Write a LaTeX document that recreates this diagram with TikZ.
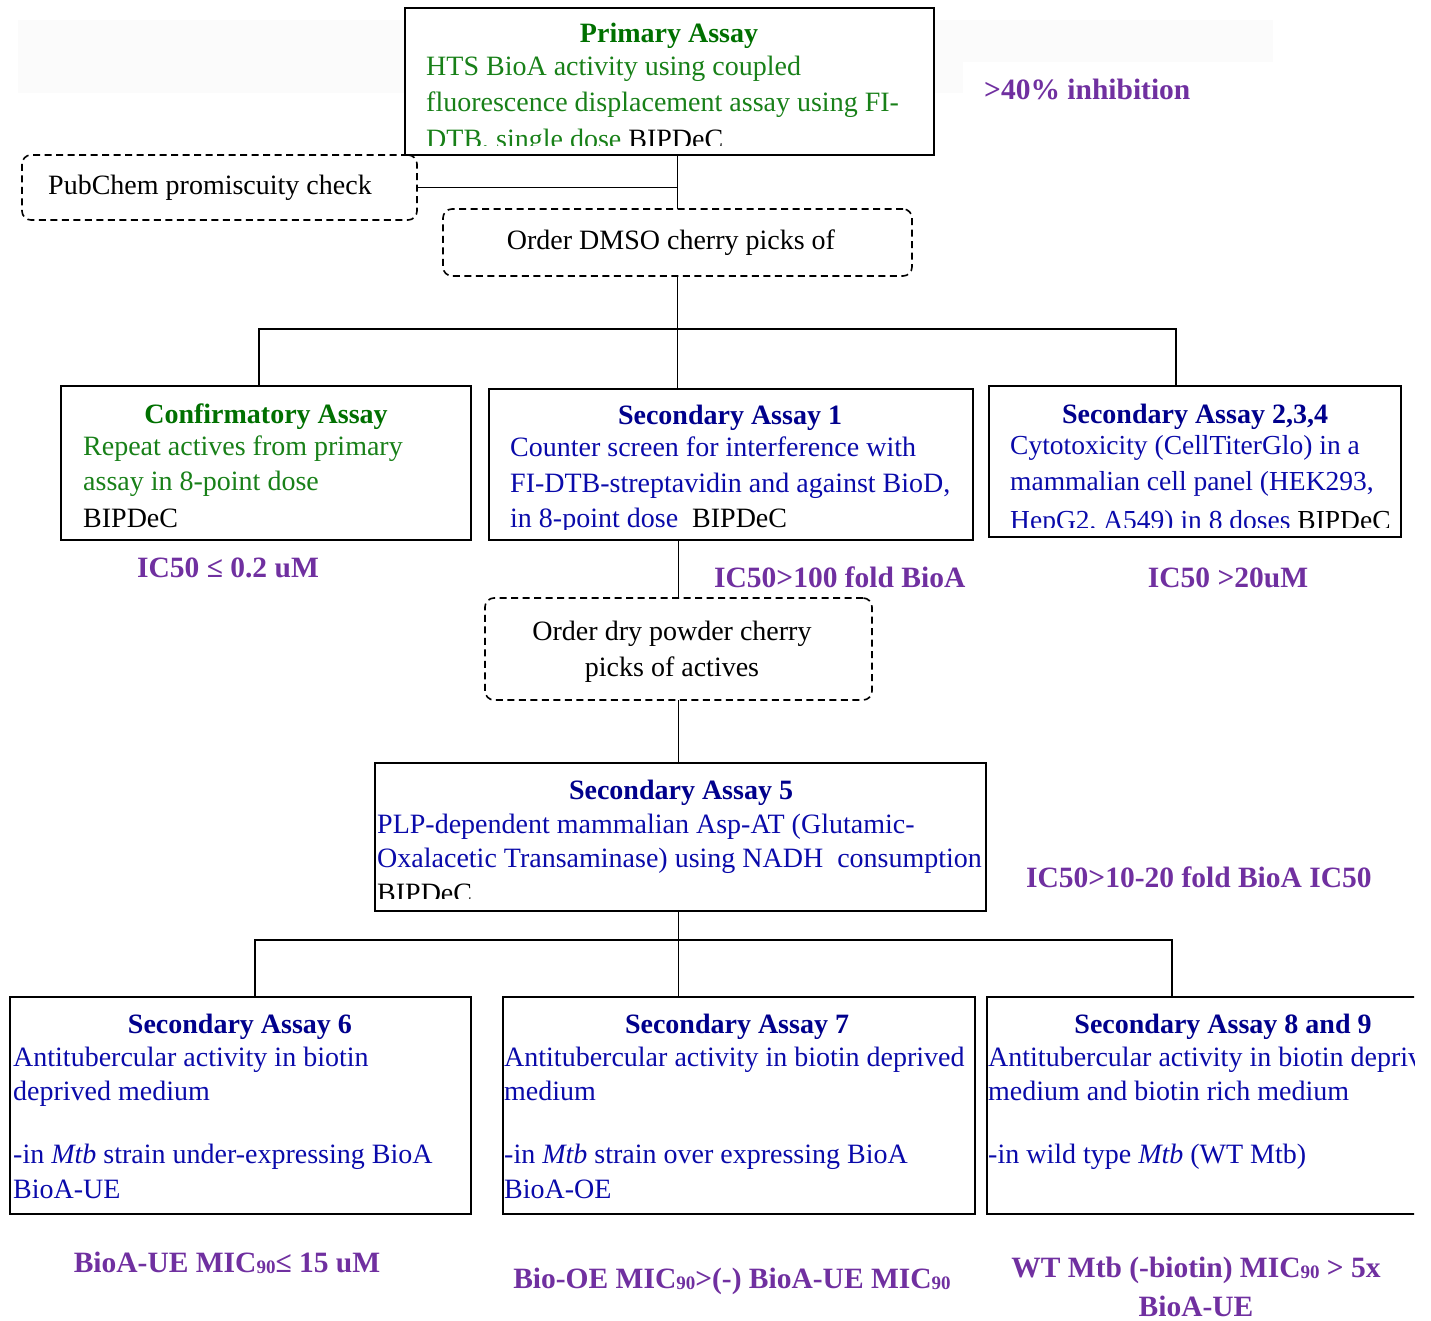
\documentclass[tikz,border=0pt]{standalone}
\usepackage{fontspec}
\setmainfont{Liberation Serif}
\definecolor{tgreen}{RGB}{0,112,0}
\definecolor{bgreen}{RGB}{24,128,24}
\definecolor{tnavy}{RGB}{0,0,140}
\definecolor{bblue}{RGB}{10,10,170}
\definecolor{lpurple}{RGB}{112,48,160}
\newcommand\mysubnum[1]{\raisebox{-1pt}{\fontsize{19}{19}\selectfont #1}}
\begin{document}
\begin{tikzpicture}[x=1pt,y=-1pt,
 solidbox/.style={draw, line width=1.7pt, anchor=north west, inner sep=0pt, outer sep=0pt},
 dashbox/.style={draw, line width=1.6pt, dash pattern=on 7pt off 4.5pt, rounded corners=9pt, anchor=north west, inner sep=0pt, outer sep=0pt},
 conn/.style={line width=1.8pt},
 ttl/.style={anchor=base, inner sep=0pt, font=\fontsize{28}{36}\selectfont\bfseries},
 txt/.style={anchor=base west, inner sep=0pt, font=\fontsize{28}{36}\selectfont},
 ctxt/.style={anchor=base, inner sep=0pt, font=\fontsize{28}{36}\selectfont},
 lab/.style={anchor=base west, inner sep=0pt, text=lpurple, font=\fontsize{29.5}{36}\selectfont\bfseries},
 clab/.style={anchor=base, inner sep=0pt, text=lpurple, font=\fontsize{29.5}{36}\selectfont\bfseries},
]
\useasboundingbox (0,0) rectangle (1431,1321);
% faint background patches
\fill[black!1.5] (18,20) rectangle (404,93);
\fill[black!1.5] (935,20) rectangle (1273,62);
\fill[black!1.5] (935,62) rectangle (963,93);

% boxes
\node[solidbox, minimum width=529pt, minimum height=147pt] (prim) at (405,8) {};
\node[dashbox, minimum width=395pt, minimum height=65pt] (pub) at (22,155) {};
\node[dashbox, minimum width=469pt, minimum height=67pt] (dmso) at (443,209) {};
\node[solidbox, minimum width=410pt, minimum height=154pt] (conf) at (61,386) {};
\node[solidbox, minimum width=484pt, minimum height=151pt] (s1) at (489,389) {};
\node[solidbox, minimum width=412pt, minimum height=151pt] (s234) at (989,386) {};
\node[dashbox, minimum width=387pt, minimum height=102pt] (dry) at (485,598) {};
\node[solidbox, minimum width=611pt, minimum height=148pt] (s5) at (375,763) {};
\node[solidbox, minimum width=461pt, minimum height=217pt] (s6) at (10,997) {};
\node[solidbox, minimum width=472pt, minimum height=217pt] (s7) at (503,997) {};
\begin{scope}
\clip (0,0) rectangle (1414,1321);
\node[solidbox, minimum width=460pt, minimum height=217pt] (s89) at (987,997) {};
\node[ttl, text=tnavy] (s89T) at (1223,1033) {Secondary Assay 8 and 9};
\node[txt, text=bblue] (s89a) at (988,1066) {Antitubercular activity in biotin deprived};
\node[txt, text=bblue] (s89b) at (988,1100) {medium and biotin rich medium};
\node[txt, text=bblue] (s89c) at (988,1163) {-in wild type \textit{Mtb} (WT Mtb)};
\end{scope}

% connectors
\draw[conn] (dmso.north) -- (dmso.north |- prim.south);
\draw[conn] (pub.east) -- (pub.east -| dmso.north);
\coordinate (j1L) at (259,329);
\coordinate (j1R) at (1176,329);
\draw[conn] (dmso.south) -- (dmso.south |- s1.north);
\draw[conn] (j1L |- conf.north) -- (j1L) -- (j1R) -- (j1R |- s234.north);
\draw[conn] (dry.north) -- (dry.north |- s1.south);
\draw[conn] (dry.south) -- (dry.south |- s5.north);
\coordinate (j2L) at (255,940);
\coordinate (j2R) at (1172,940);
\draw[conn] (s5.south -| dry.south) -- (s7.north -| dry.south);
\draw[conn] (j2L |- s6.north) -- (j2L) -- (j2R) -- (j2R |- s89.north);

% primary
\node[ttl, text=tgreen] (primT) at (669,43) {Primary Assay};
\begin{scope}
\clip (405,8) rectangle (934,146);
\node[txt, text=bgreen] (primA) at (426,76) {HTS BioA activity using coupled};
\node[txt, text=bgreen] (primB) at (426,112) {fluorescence displacement assay using FI-};
\node[txt, text=bgreen] (primC) at (426,149) {DTB, single dose \textcolor{black}{BIPDeC}};
\end{scope}
\node[lab] (l40) at (984,100) {>40\% inhibition};

\node[ctxt] (pubT) at (210,195) {PubChem promiscuity check};
\node[ctxt] (dmsoT) at (671,250) {Order DMSO cherry picks of};

% confirmatory
\node[ttl, text=tgreen] (confT) at (266,423) {Confirmatory Assay};
\node[txt, text=bgreen] (confA) at (83,455) {Repeat actives from primary};
\node[txt, text=bgreen] (confB) at (83,490) {assay in 8-point dose};
\node[txt] (confC) at (83,527) {BIPDeC};

% secondary 1
\node[ttl, text=tnavy] (s1T) at (730,424) {Secondary Assay 1};
\begin{scope}
\clip (489,389) rectangle (973,529);
\node[txt, text=bblue] (s1A) at (510,456) {Counter screen for interference with};
\node[txt, text=bblue] (s1B) at (510,492) {FI-DTB-streptavidin and against BioD,};
\node[txt, text=bblue] (s1C) at (510,527) {in 8-point dose\ \ \textcolor{black}{BIPDeC}};
\end{scope}

% secondary 2,3,4
\node[ttl, text=tnavy] (s234T) at (1195,423) {Secondary Assay 2,3,4};
\begin{scope}
\clip (989,386) rectangle (1401,527);
\node[txt, text=bblue, font=\fontsize{27.5}{36}\selectfont] (s234A) at (1010,454) {Cytotoxicity (CellTiterGlo) in a};
\node[txt, text=bblue, font=\fontsize{27.5}{36}\selectfont] (s234B) at (1010,490) {mammalian cell panel (HEK293,};
\node[txt, text=bblue, font=\fontsize{27.5}{36}\selectfont] (s234C) at (1010,529) {HepG2, A549) in 8 doses \textcolor{black}{BIPDeC}};
\end{scope}

\node[clab] (l02) at (228,577) {IC50 ≤ 0.2 uM};
\node[lab] (l100) at (714,587) {IC50>100 fold BioA};
\node[clab] (l20) at (1228,587) {IC50 >20uM};

% dry powder
\node[ctxt] (dryA) at (672,640) {Order dry powder cherry};
\node[ctxt] (dryB) at (672,676) {picks of actives};

% secondary 5
\node[ttl, text=tnavy] (s5T) at (681,799) {Secondary Assay 5};
\begin{scope}
\clip (375,763) rectangle (986,898);
\node[txt, text=bblue] (s5A) at (377,833) {PLP-dependent mammalian Asp-AT (Glutamic-};
\node[txt, text=bblue] (s5B) at (377,867) {Oxalacetic Transaminase) using NADH\ \ consumption};
\node[txt] (s5C) at (377,902) {BIPDeC};
\end{scope}
\node[lab] (l1020) at (1026,887) {IC50>10-20 fold BioA IC50};

% secondary 6
\node[ttl, text=tnavy] (s6T) at (240,1033) {Secondary Assay 6};
\node[txt, text=bblue] (s6A) at (13,1066) {Antitubercular activity in biotin};
\node[txt, text=bblue] (s6B) at (13,1100) {deprived medium};
\node[txt, text=bblue] (s6C) at (13,1163) {-in \textit{Mtb} strain under-expressing BioA};
\node[txt, text=bblue] (s6D) at (13,1198) {BioA-UE};

% secondary 7
\node[ttl, text=tnavy] (s7T) at (737,1033) {Secondary Assay 7};
\node[txt, text=bblue] (s7A) at (504,1066) {Antitubercular activity in biotin deprived};
\node[txt, text=bblue] (s7B) at (504,1100) {medium};
\node[txt, text=bblue] (s7C) at (504,1163) {-in \textit{Mtb} strain over expressing BioA};
\node[txt, text=bblue] (s7D) at (504,1198) {BioA-OE};

% bottom labels
\node[clab] (lue) at (227,1272) {BioA-UE MIC\mysubnum{90}≤ 15 uM};
\node[clab] (loe) at (732,1288) {Bio-OE MIC\mysubnum{90}>(-) BioA-UE MIC\mysubnum{90}};
\node[clab] (lwt) at (1196,1277) {WT Mtb (-biotin) MIC\mysubnum{90} > 5x};
\node[clab] (lwt2) at (1196,1316) {BioA-UE};
\end{tikzpicture}
\end{document}
